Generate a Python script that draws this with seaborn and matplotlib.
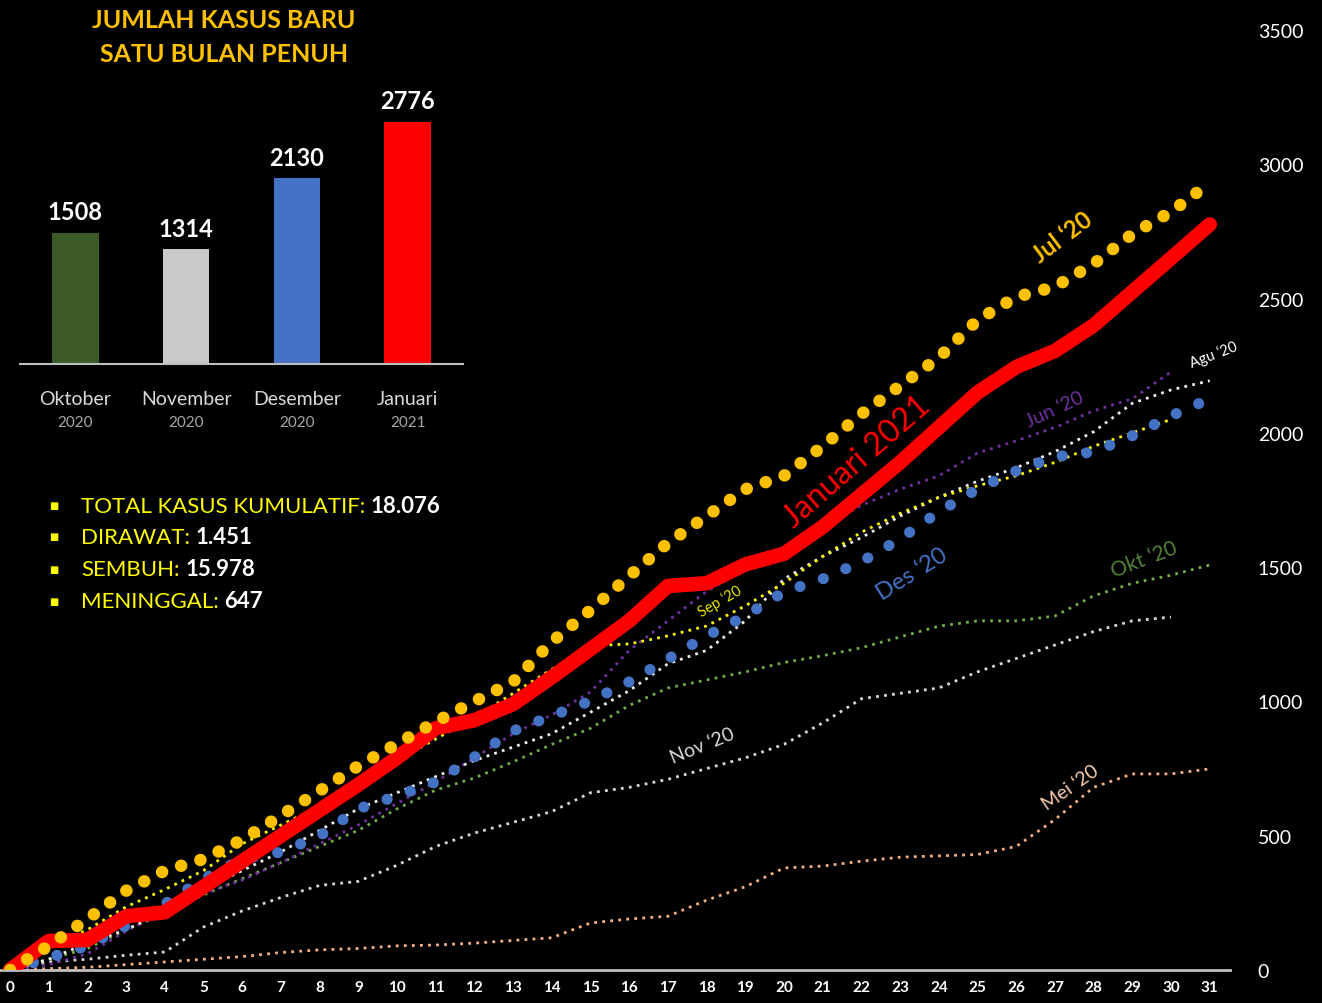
import matplotlib
matplotlib.use("Agg")
import matplotlib.pyplot as plt
import seaborn as sns
from matplotlib.transforms import blended_transform_factory

# ---------------- data ----------------
days31 = list(range(0, 32))
days30 = list(range(0, 31))

jan21 = [0, 108, 112, 200, 215, 310, 405, 500, 595, 690, 790, 900, 930, 990, 1090, 1195,
         1300, 1430, 1440, 1510, 1550, 1650, 1770, 1890, 2020, 2150, 2245, 2305, 2400, 2525,
         2650, 2776]
jul20 = [0, 90, 190, 295, 370, 413, 485, 575, 667, 760, 842, 924, 1000, 1073, 1222, 1340,
         1467, 1590, 1690, 1790, 1840, 1950, 2070, 2175, 2280, 2420, 2506, 2544, 2629, 2740,
         2823, 2930]
des20 = [0, 45, 90, 165, 246, 339, 413, 439, 499, 600, 648, 700, 793, 890, 946, 1002,
         1073, 1158, 1244, 1318, 1408, 1456, 1520, 1605, 1706, 1791, 1858, 1911, 1929, 1989,
         2063, 2127]
agu20 = [0, 40, 100, 150, 220, 300, 370, 440, 520, 600, 660, 720, 780, 830, 880, 960,
         1040, 1140, 1190, 1300, 1456, 1540, 1610, 1690, 1760, 1820, 1870, 1930, 2004, 2110,
         2160, 2194]
jun20 = [0, 20, 60, 145, 220, 285, 335, 400, 470, 540, 620, 700, 790, 880, 950, 1035,
         1190, 1300, 1410, 1490, 1570, 1650, 1730, 1790, 1840, 1925, 1970, 2020, 2082, 2127,
         2227]
sep20 = [0, 80, 150, 235, 300, 370, 470, 540, 610, 700, 780, 860, 940, 1030, 1120, 1207,
         1214, 1244, 1281, 1356, 1440, 1540, 1630, 1700, 1760, 1803, 1840, 1890, 1950, 2000,
         2050]
okt20 = [0, 40, 80, 150, 210, 280, 340, 400, 460, 520, 600, 670, 715, 775, 840, 900,
         985, 1050, 1080, 1110, 1145, 1170, 1200, 1240, 1280, 1300, 1300, 1318, 1393, 1440,
         1470, 1508]
nov20 = [0, 30, 40, 55, 67, 160, 220, 270, 315, 330, 390, 460, 510, 550, 590, 660,
         680, 710, 750, 790, 840, 920, 1010, 1030, 1050, 1110, 1160, 1210, 1260, 1300,
         1314]
mei20 = [0, 5, 10, 20, 30, 40, 50, 65, 75, 80, 90, 93, 100, 110, 120, 175,
         190, 200, 260, 310, 380, 387, 405, 420, 425, 430, 460, 560, 680, 730,
         730, 749]

y_ticks = [0, 500, 1000, 1500, 2000, 2500, 3000, 3500]

bar_months = ["Oktober", "November", "Desember", "Januari"]
bar_years = ["2020", "2020", "2020", "2021"]
bar_values = [1508, 1314, 2130, 2776]
bar_colors = ["#3B5A26", "#C9C9C9", "#4472C4", "#FF0000"]

title_lines = ["JUMLAH KASUS BARU", "SATU BULAN PENUH"]
stat_labels = ["TOTAL KASUS KUMULATIF:", "DIRAWAT:", "SEMBUH:", "MENINGGAL:"]
stat_values = ["18.076", "1.451", "15.978", "647"]

# ---------------- style ----------------
sns.set_theme(style="dark", rc={
    "figure.facecolor": "black", "axes.facecolor": "black",
    "savefig.facecolor": "black", "axes.grid": False,
    "text.color": "white", "xtick.color": "white", "ytick.color": "white",
})
plt.rcParams["font.family"] = ["Lato", "DejaVu Sans"]

W, H = 1322, 1004
fig = plt.figure(figsize=(W / 100, H / 100), dpi=100)

# main axes: px 0..1230 horizontally, 31..971 vertically
ax = fig.add_axes([0, 1 - 971 / H, 1230 / W, (971 - 31) / H])
ax.set_facecolor("black")

thin = (0, (1, 1.9))
series = [
    (days31, mei20, "#F4B183", 2.0, thin, "butt", 2),
    (days30, nov20, "#D9D9D9", 2.0, thin, "butt", 2),
    (days31, okt20, "#70AD47", 2.0, thin, "butt", 2),
    (days30, jun20, "#7030A0", 2.0, thin, "butt", 2),
    (days31, agu20, "#F2F2F2", 2.0, thin, "butt", 2),
    (days30, sep20, "#FFFF00", 2.0, thin, "butt", 2),
    (days31, des20, "#4472C4", 8.0, (0, (0.01, 2.2)), "round", 3),
    (days31, jan21, "#FF0000", 10.5, "-", "round", 4),
    (days31, jul20, "#FFC000", 9.0, (0, (0.01, 1.6)), "round", 5),
]
for xs, ys, col, lw, ls, cap, z in series:
    sns.lineplot(x=xs, y=ys, ax=ax, color=col, linewidth=lw, linestyle=ls,
                 dash_capstyle=cap, solid_capstyle="round", solid_joinstyle="round",
                 zorder=z, legend=False)

ax.set_xlim(-10 / 38.7, 1230 / 38.7 - 10 / 38.7)
ax.set_ylim(0, 3500)
ax.set_xticks(days31)
ax.set_xticklabels([str(d) for d in days31], fontsize=11, fontweight="bold", color="white")
ax.set_yticks(y_ticks)
ax.set_yticklabels([str(v) for v in y_ticks], fontsize=14, color="white")
ax.yaxis.tick_right()
ax.tick_params(axis="y", length=0, pad=20)
ax.tick_params(axis="x", length=0, pad=7)
for s in ["top", "left", "right"]:
    ax.spines[s].set_visible(False)
ax.spines["bottom"].set_color("#BFBFBF")
ax.spines["bottom"].set_linewidth(2)
ax.set_xlabel("")
ax.set_ylabel("")

# line labels
labels = [
    ("Jul \u201820", 27.2, 2730, 37, "#FFC000", 17, "bold"),
    ("Januari 2021", 21.9, 1896, 41, "#FF0000", 23, "normal"),
    ("Jun \u201820", 27.0, 2089, 25, "#7030A0", 14, "normal"),
    ("Agu \u201820", 31.1, 2294, 21, "#FFFFFF", 10.5, "normal"),
    ("Des \u201820", 23.3, 1475, 32, "#4472C4", 17, "normal"),
    ("Sep \u201820", 18.35, 1374, 30, "#E6E600", 10.5, "normal"),
    ("Okt \u201820", 29.3, 1531, 21, "#548235", 15, "normal"),
    ("Nov \u201820", 17.9, 838, 22, "#D9D9D9", 14, "normal"),
    ("Mei \u201820", 27.4, 682, 35, "#F8CBAD", 14, "normal"),
]
for txt, lx, ly, rot, col, fs, fw in labels:
    ax.text(lx, ly, txt, rotation=rot, color=col, fontsize=fs, fontweight=fw,
            ha="center", va="center", rotation_mode="anchor", zorder=6)

# ---------------- inset bar chart ----------------
axb = fig.add_axes([20 / W, 1 - 365 / H, 443 / W, 288 / H])
axb.patch.set_alpha(0)
sns.barplot(x=bar_months, y=bar_values, hue=bar_months, palette=bar_colors,
            legend=False, width=0.42, ax=axb, saturation=1, linewidth=0,
            edgecolor="none")
axb.set_xlim(-0.5, 3.5)
axb.set_ylim(0, 3303)
for c in axb.containers:
    axb.bar_label(c, fmt="%d", padding=7, color="white", fontsize=17, fontweight="bold")
axb.set_xticks(range(4))
axb.set_xticklabels(bar_months, fontsize=14, color="#D9D9D9")
axb.tick_params(axis="x", length=0, pad=19)
axb.set_yticks([])
axb.set_xlabel("")
axb.set_ylabel("")
for s in ["top", "left", "right"]:
    axb.spines[s].set_visible(False)
axb.spines["bottom"].set_color("#BFBFBF")
axb.spines["bottom"].set_linewidth(1.5)
tr = blended_transform_factory(axb.transData, axb.transAxes)
for i, yr in enumerate(bar_years):
    axb.text(i, -0.2, yr, transform=tr, ha="center", va="center",
             fontsize=11, color="#A6A6A6")

# title
fig.text(224 / W, 1 - 20 / H, title_lines[0], ha="center", va="center",
         fontsize=18, fontweight="bold", color="#FFC000")
fig.text(224 / W, 1 - 55 / H, title_lines[1], ha="center", va="center",
         fontsize=18, fontweight="bold", color="#FFC000")

# stats list
stat_y = [507, 538, 570, 602]
for lab, val, py in zip(stat_labels, stat_values, stat_y):
    fig.text(54 / W, 1 - py / H, "\u25A0", ha="center", va="center",
             fontsize=7, color="#FFFF00")
    t = fig.text(81 / W, 1 - py / H, lab, ha="left", va="center",
                 fontsize=16, color="#FFFF00")
    ax.annotate(val, xy=(1, 0), xycoords=t, xytext=(4, 0), textcoords="offset points",
                ha="left", va="bottom", fontsize=16, fontweight="bold",
                color="white", annotation_clip=False)

fig.savefig("out.png", dpi=100, facecolor="black")
